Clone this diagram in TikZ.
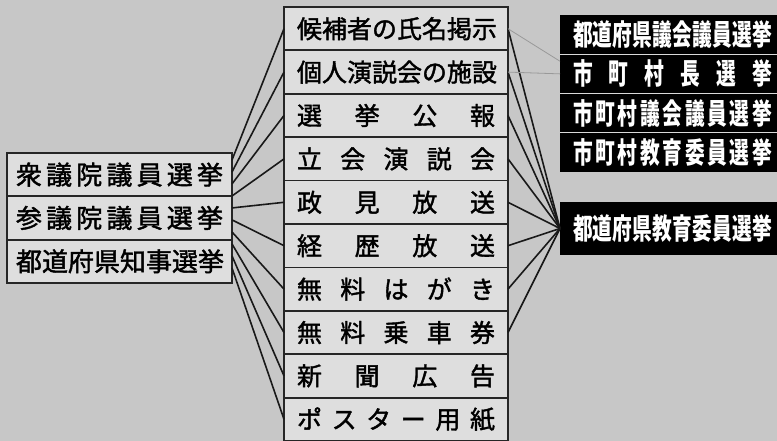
\documentclass[tikz,border=0pt]{standalone}
\usepackage{fontspec}
\usepackage{tikz}
\usetikzlibrary{positioning, calc}
\usepackage{xcolor}

\newfontfamily\jp[FakeBold=1.6]{Noto Sans CJK JP}
\newfontfamily\jpnarrow[FakeStretch=0.68]{Noto Sans CJK JP}
\newcommand{\kintou}[2]{\makebox[#1][s]{#2}}

\begin{document}
\begin{tikzpicture}[
x=1pt, y=-1pt,
node distance=0pt,
elbox/.style={draw=black!85,
line width=1.8pt,
fill=black!13,
minimum width=225pt,
minimum height=43.3pt,
inner sep=0pt, outer sep=0pt,
font=\jp\fontsize{26}{26}\selectfont},
actbox/.style={elbox,
minimum width=224pt,
minimum height=43.4pt,
font=\jp\fontsize{25}{25}\selectfont},
darkbox/.style={fill=black,
text=white,
minimum width=225pt,
minimum height=39.25pt,
inner sep=0pt, outer sep=0pt,
font=\jpnarrow\bfseries\fontsize{29}{29}\selectfont},
link/.style={draw=black!90, line width=1.6pt},
faint/.style={draw=black!40, line width=0.8pt}
]

\fill[black!22] (0,0) rectangle (777,441);
\useasboundingbox (0,0) rectangle (777,441);

% elections (left)
\node[elbox, anchor=north west] (ele1) at (7,153) {\kintou{207pt}{衆\hfill 議\hfill 院\hfill 議\hfill 員\hfill 選\hfill 挙}};
\node[elbox, below=of ele1] (ele2) {\kintou{207pt}{参\hfill 議\hfill 院\hfill 議\hfill 員\hfill 選\hfill 挙}};
\node[elbox, below=of ele2] (ele3) {\kintou{207pt}{都\hfill 道\hfill 府\hfill 県\hfill 知\hfill 事\hfill 選\hfill 挙}};

% campaign means (middle)
\node[actbox, anchor=north west] (act1) at (284,7) {\kintou{198pt}{候\hfill 補\hfill 者\hfill の\hfill 氏\hfill 名\hfill 掲\hfill 示}};
\node[actbox, below=of act1] (act2) {\kintou{198pt}{個\hfill 人\hfill 演\hfill 説\hfill 会\hfill の\hfill 施\hfill 設}};
\node[actbox, below=of act2] (act3) {\kintou{198pt}{選\hfill 挙\hfill 公\hfill 報}};
\node[actbox, below=of act3] (act4) {\kintou{198pt}{立\hfill 会\hfill 演\hfill 説\hfill 会}};
\node[actbox, below=of act4] (act5) {\kintou{198pt}{政\hfill 見\hfill 放\hfill 送}};
\node[actbox, below=of act5] (act6) {\kintou{198pt}{経\hfill 歴\hfill 放\hfill 送}};
\node[actbox, below=of act6] (act7) {\kintou{198pt}{無\hfill 料\hfill は\hfill が\hfill き}};
\node[actbox, below=of act7] (act8) {\kintou{198pt}{無\hfill 料\hfill 乗\hfill 車\hfill 券}};
\node[actbox, below=of act8] (act9) {\kintou{198pt}{新\hfill 聞\hfill 広\hfill 告}};
\node[actbox, below=of act9] (act10) {\kintou{198pt}{ポ\hfill ス\hfill タ\hfill ー\hfill 用\hfill 紙}};

% local elections (right)
\node[darkbox, anchor=north west] (loc1) at (560,15) {\kintou{199pt}{都\hfill 道\hfill 府\hfill 県\hfill 議\hfill 会\hfill 議\hfill 員\hfill 選\hfill 挙}};
\node[darkbox, below=of loc1] (loc2) {\kintou{199pt}{市\hfill 町\hfill 村\hfill 長\hfill 選\hfill 挙}};
\node[darkbox, below=of loc2] (loc3) {\kintou{199pt}{市\hfill 町\hfill 村\hfill 議\hfill 会\hfill 議\hfill 員\hfill 選\hfill 挙}};
\node[darkbox, below=of loc3] (loc4) {\kintou{199pt}{市\hfill 町\hfill 村\hfill 教\hfill 育\hfill 委\hfill 員\hfill 選\hfill 挙}};
\node[darkbox, minimum height=53pt, anchor=north west] (pref) at (560,202) {\kintou{199pt}{都\hfill 道\hfill 府\hfill 県\hfill 教\hfill 育\hfill 委\hfill 員\hfill 選\hfill 挙}};

\draw[black!15, line width=1pt] (loc1.south west) -- (loc1.south east);
\draw[black!15, line width=1pt] (loc2.south west) -- (loc2.south east);
\draw[black!15, line width=1pt] (loc3.south west) -- (loc3.south east);

% left fan
\draw[link] ($(ele1.north east)!0.054!(ele3.south east)$) -- (act1.west);
\draw[link] ($(ele1.north east)!0.146!(ele3.south east)$) -- (act2.west);
\draw[link] ($(ele1.north east)!0.238!(ele3.south east)$) -- (act3.west);
\draw[link] ($(ele1.north east)!0.331!(ele3.south east)$) -- (act4.west);
\draw[link] ($(ele1.north east)!0.423!(ele3.south east)$) -- (act5.west);
\draw[link] ($(ele1.north east)!0.515!(ele3.south east)$) -- (act6.west);
\draw[link] ($(ele1.north east)!0.608!(ele3.south east)$) -- (act7.west);
\draw[link] ($(ele1.north east)!0.700!(ele3.south east)$) -- (act8.west);
\draw[link] ($(ele1.north east)!0.792!(ele3.south east)$) -- (act9.west);
\draw[link] ($(ele1.north east)!0.885!(ele3.south east)$) -- (act10.west);

% right fan
\draw[link] (act1.east) -- (pref.west);
\draw[link] (act2.east) -- (pref.west);
\draw[link] (act3.east) -- (pref.west);
\draw[link] (act4.east) -- (pref.west);
\draw[link] (act5.east) -- (pref.west);
\draw[link] (act6.east) -- (pref.west);
\draw[link] (act7.east) -- (pref.west);
\draw[link] (act8.east) -- (pref.west);

\draw[faint] (act1.east) -- ([yshift=-7pt]loc2.north west);
\draw[faint] (act2.east) -- (loc2.west);

\end{tikzpicture}
\end{document}
